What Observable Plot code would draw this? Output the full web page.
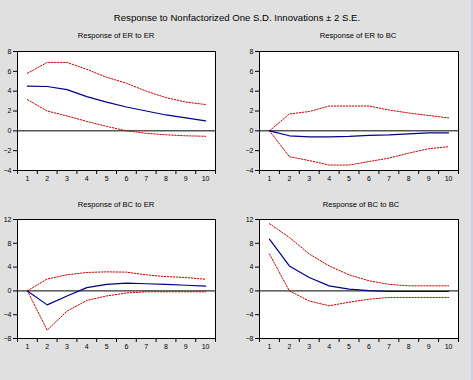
<!DOCTYPE html>
<html><head><meta charset="utf-8">
<script src="https://cdn.jsdelivr.net/npm/d3@7"></script>
<script src="https://cdn.jsdelivr.net/npm/@observablehq/plot@0.6"></script>
<style>
html,body{margin:0;padding:0}
body{background:#e0e0e0;width:473px;height:380px;overflow:hidden;position:relative;font-family:"Liberation Sans",Arial,sans-serif}
.t{position:absolute;white-space:nowrap;transform:translateX(-50%);color:#000;line-height:1}
.p{position:absolute}
.p svg{max-width:none !important}
.edge{position:absolute;right:0;top:0;width:2px;height:380px;background:#c8d2e2}
</style></head><body>
<div class="t" style="left:237px;top:13px;font-size:9.6px">Response to Nonfactorized One S.D. Innovations ± 2 S.E.</div>
<div class="t" style="left:116px;top:32px;font-size:7.6px">Response of ER to ER</div>
<div class="t" style="left:358px;top:32px;font-size:7.6px">Response of ER to BC</div>
<div class="t" style="left:116px;top:201px;font-size:7.6px">Response of BC to ER</div>
<div class="t" style="left:361px;top:201px;font-size:7.6px">Response of BC to BC</div>
<div id="p1" class="p" style="left:0;top:40px"></div>
<div id="p2" class="p" style="left:242px;top:40px"></div>
<div id="p3" class="p" style="left:0;top:208px"></div>
<div id="p4" class="p" style="left:242px;top:208px"></div>
<div class="edge"></div>
<script>
const periods = [1,2,3,4,5,6,7,8,9,10];
const bandEdges = [0.5,1.5,2.5,3.5,4.5,5.5,6.5,7.5,8.5,9.5,10.5];
const topTicks = [-4,-2,0,2,4,6,8];
const bottomTicks = [-8,-4,0,4,8,12];

// Response of ER to ER
const erErMid = [4.5,4.47,4.15,3.45,2.9,2.4,2.0,1.6,1.3,1.0];
const erErUp  = [5.8,6.9,6.9,6.2,5.4,4.8,4.0,3.35,2.9,2.65];
const erErLo  = [3.15,2.0,1.5,0.95,0.45,0.0,-0.25,-0.4,-0.5,-0.55];
// Response of ER to BC
const erBcMid = [0,-0.5,-0.6,-0.6,-0.55,-0.45,-0.4,-0.3,-0.2,-0.2];
const erBcUp  = [0,1.7,1.95,2.5,2.5,2.5,2.1,1.8,1.55,1.3];
const erBcLo  = [0,-2.6,-3.0,-3.45,-3.45,-3.1,-2.75,-2.25,-1.8,-1.6];
// Response of BC to ER
const bcErMid = [0,-2.35,-0.85,0.55,1.1,1.3,1.2,1.1,0.95,0.8];
const bcErUp  = [0,2.0,2.7,3.1,3.2,3.15,2.7,2.4,2.25,1.95];
const bcErLo  = [0,-6.6,-3.4,-1.6,-0.85,-0.35,-0.15,-0.15,-0.15,-0.15];
// Response of BC to BC
const bcBcMid = [8.7,4.2,2.25,0.85,0.3,0.05,-0.1,-0.1,-0.1,-0.1];
const bcBcUp  = [11.3,9.0,6.2,4.2,2.7,1.7,1.1,0.85,0.85,0.85];
const bcBcLo  = [6.2,0.0,-1.7,-2.5,-1.9,-1.4,-1.1,-1.1,-1.1,-1.1];

function panel(el, mid, up, lo, yDomain, yTicks, widthFrame) {
  const W = 228;
  const ml = 17;
  const chart = Plot.plot({
    width: W, height: 150,
    marginLeft: ml, marginRight: W - ml - widthFrame, marginTop: 11, marginBottom: 20,
    style: {background: "transparent", fontSize: "7px", fontFamily: "'Liberation Sans', Arial, sans-serif", color: "#000", maxWidth: "none"},
    x: {domain: [0.5, 10.5]},
    y: {domain: yDomain},
    marks: [
      Plot.frame({fill: "white", stroke: "none"}),
      Plot.axisX(bandEdges, {tickSize: 4, tickFormat: () => "", stroke: "#000"}),
      Plot.axisX(periods, {tickSize: 0, tickPadding: 6, tickFormat: d => String(d)}),
      Plot.axisY(yTicks, {tickSize: 4, tickPadding: 2, stroke: "#000"}),
      Plot.ruleY([0], {stroke: "#000", strokeWidth: 1}),
      Plot.line(up, {x: (d, i) => periods[i], y: d => d, stroke: "#c00000", strokeWidth: 1, strokeDasharray: "1.5,1.5"}),
      Plot.line(lo, {x: (d, i) => periods[i], y: d => d, stroke: "#c00000", strokeWidth: 1, strokeDasharray: "1.5,1.5"}),
      Plot.line(mid, {x: (d, i) => periods[i], y: d => d, stroke: "#00008b", strokeWidth: 1.2}),
      Plot.frame({stroke: "#000", strokeWidth: 1})
    ]
  });
  document.getElementById(el).appendChild(chart);
}
panel("p1", erErMid, erErUp, erErLo, [-4, 8], topTicks, 198);
panel("p2", erBcMid, erBcUp, erBcLo, [-4, 8], topTicks, 199);
panel("p3", bcErMid, bcErUp, bcErLo, [-8, 12], bottomTicks, 198);
panel("p4", bcBcMid, bcBcUp, bcBcLo, [-8, 12], bottomTicks, 199);
</script>
</body></html>
